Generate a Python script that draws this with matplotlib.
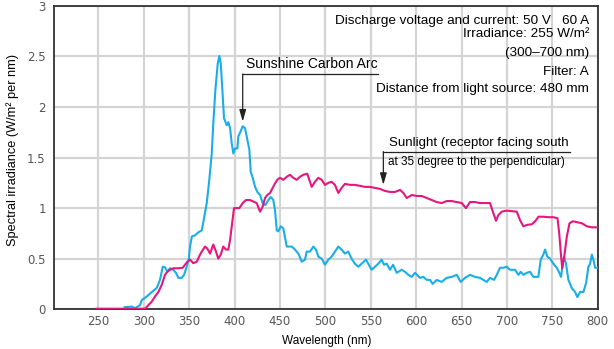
"""
plot.py

Spectral irradiance of a sunshine carbon arc lamp against sunlight.
"""

import matplotlib
matplotlib.use("Agg")
import matplotlib.pyplot as plt

# carbon arc spectrum (blue)
arc_wl = [279, 286.8, 290.4, 295.9, 297.8, 303.3, 308.8, 314.3, 317.9, 320.9,
          323.4, 325.9, 328.9, 332.6, 335.5, 338.1, 341.8, 344.4, 347.3, 349.5,
          351, 353, 356.4, 360.1, 363.9, 366.4, 369.4, 372.2, 374.9, 376.6,
          378.9, 381.5, 383.3, 384.8, 386.6, 388.4, 391.4, 393.2, 395.1, 396.9,
          398.7, 400.5, 403.1, 404.2, 406.8, 409, 411.6, 413.4, 416.3, 417.8,
          420, 422.6, 425.1, 428.1, 431, 433.9, 437.2, 439.9, 442.7, 444.6,
          446.5, 448.2, 450.9, 453.7, 457.5, 463, 466.6, 470.3, 474, 477.6,
          479.5, 483.1, 486.8, 489.7, 492.3, 496, 499.6, 503.3, 506.9, 510.6,
          514.3, 517.9, 521.6, 525.3, 528.9, 532.6, 536.3, 540, 544.8, 547.3,
          551, 554.7, 558.3, 562, 564.6, 567.6, 571.2, 574.6, 578.6, 584.1,
          587.8, 591.4, 595.1, 598.8, 604.3, 608, 611.6, 615.3, 618.2, 622.6,
          628.1, 633.6, 639.2, 644.7, 649.1, 653.8, 659.3, 664.8, 670.4, 677.7,
          681.4, 685.8, 688.8, 692.4, 696.1, 699.8, 703.4, 708.9, 712.6, 715.2,
          718.1, 721.8, 725.4, 729.1, 734.6, 737.2, 740.1, 742, 744.5, 747.5,
          751.2, 754.9, 757.7, 759.6, 761.5, 762.9, 765.1, 767.7, 771.4, 775,
          777.6, 780.5, 784.2, 787.2, 789.7, 791.6, 793.5, 795.2, 797.1, 799.7]
arc_val = [0.02, 0.026, 0.01, 0.04, 0.09, 0.125, 0.17, 0.21, 0.29, 0.42,
           0.415, 0.37, 0.405, 0.39, 0.36, 0.31, 0.31, 0.34, 0.42, 0.49,
           0.62, 0.72, 0.73, 0.76, 0.78, 0.90, 1.05, 1.28, 1.54, 1.84,
           2.17, 2.43, 2.505, 2.43, 2.17, 1.89, 1.82, 1.85, 1.79, 1.64,
           1.54, 1.59, 1.59, 1.71, 1.76, 1.81, 1.79, 1.71, 1.58, 1.36,
           1.30, 1.21, 1.16, 1.13, 1.05, 1.03, 1.08, 1.11, 1.08, 0.98,
           0.78, 0.77, 0.82, 0.80, 0.62, 0.62, 0.59, 0.55, 0.47, 0.49,
           0.57, 0.57, 0.62, 0.59, 0.52, 0.50, 0.44, 0.49, 0.52, 0.57,
           0.62, 0.59, 0.55, 0.57, 0.50, 0.45, 0.42, 0.45, 0.49, 0.45,
           0.39, 0.42, 0.45, 0.49, 0.44, 0.45, 0.39, 0.44, 0.36, 0.39,
           0.37, 0.34, 0.32, 0.36, 0.31, 0.32, 0.29, 0.29, 0.25, 0.29,
           0.27, 0.31, 0.32, 0.34, 0.27, 0.31, 0.34, 0.32, 0.31, 0.27,
           0.31, 0.29, 0.34, 0.41, 0.41, 0.42, 0.39, 0.39, 0.34, 0.37,
           0.34, 0.36, 0.37, 0.32, 0.32, 0.49, 0.54, 0.59, 0.52, 0.50,
           0.45, 0.41, 0.36, 0.32, 0.45, 0.52, 0.45, 0.29, 0.21, 0.17,
           0.12, 0.17, 0.17, 0.26, 0.42, 0.45, 0.54, 0.49, 0.41, 0.41]

# sunlight spectrum (magenta)
sun_wl = [248, 301.4, 305.1, 308.8, 312.4, 316.1, 319.8, 323.4, 326, 328.9,
          332.6, 338.1, 342.9, 345.5, 348, 351, 354.6, 358.4, 362, 363.9,
          367.5, 370, 373, 376.6, 379.6, 382.1, 384.8, 387.6, 390.6, 393.1,
          395.1, 396.9, 399.4, 402.4, 405.3, 409, 412.6, 417, 420.7, 424.4,
          428.1, 431, 433.6, 436.1, 439.1, 442, 444.6, 447.1, 450.1, 453.7,
          457.5, 461.1, 464.7, 468.4, 472.1, 475.7, 480.1, 483.1, 485, 488.6,
          492.3, 496, 499.6, 503.3, 506.9, 510.6, 514.3, 517.9, 521.6, 527.2,
          532.6, 538.1, 543.7, 549.2, 554.7, 560.2, 565.7, 571.2, 576.8, 582.3,
          585.9, 589.6, 595.2, 600.6, 606.2, 611.6, 617.2, 622.7, 628.2, 633.7,
          639.2, 644.7, 650.2, 654.9, 659.3, 664.8, 670.3, 675.8, 681.4, 685,
          688, 690.5, 694.3, 699.8, 705.3, 710.8, 714.5, 718.1, 722.6, 727.4,
          731.1, 734.8, 740.3, 745.8, 751.3, 755.7, 757.6, 759.4, 760.9, 763.1,
          766, 768.9, 772.6, 777.7, 782.5, 788, 793.5, 799.7]
sun_val = [0.005, 0.005, 0.04, 0.075, 0.125, 0.17, 0.24, 0.34, 0.37, 0.39,
           0.405, 0.405, 0.41, 0.44, 0.47, 0.49, 0.455, 0.47, 0.54, 0.57,
           0.62, 0.60, 0.55, 0.64, 0.57, 0.50, 0.54, 0.62, 0.59, 0.59,
           0.685, 0.82, 1.00, 1.00, 1.00, 1.05, 1.08, 1.08, 1.065, 1.05,
           0.965, 1.015, 1.10, 1.13, 1.15, 1.20, 1.245, 1.28, 1.30, 1.28,
           1.31, 1.33, 1.30, 1.28, 1.31, 1.33, 1.34, 1.26, 1.21, 1.26,
           1.30, 1.28, 1.23, 1.25, 1.26, 1.23, 1.15, 1.20, 1.24, 1.23,
           1.23, 1.22, 1.21, 1.21, 1.20, 1.19, 1.17, 1.16, 1.16, 1.18,
           1.15, 1.10, 1.13, 1.12, 1.12, 1.10, 1.08, 1.06, 1.05, 1.07,
           1.07, 1.06, 1.05, 1.00, 1.06, 1.06, 1.05, 1.05, 1.05, 0.95,
           0.875, 0.93, 0.965, 0.975, 0.97, 0.965, 0.88, 0.82, 0.835, 0.84,
           0.87, 0.915, 0.915, 0.91, 0.91, 0.90, 0.75, 0.55, 0.405, 0.52,
           0.72, 0.85, 0.87, 0.86, 0.85, 0.82, 0.81, 0.81]

x_ticks = [250, 300, 350, 400, 450, 500, 550, 600, 650, 700, 750, 800]
y_ticks = [0, 0.5, 1, 1.5, 2, 2.5, 3]
y_tick_labels = ["0", "0.5", "1", "1.5", "2", "2.5", "3"]

info_lines = [
    "Discharge voltage and current: 50 V   60 A",
    "Irradiance: 255 W/m²",
    "(300–700 nm)",
    "Filter: A",
    "Distance from light source: 480 mm",
]

NARROW = ["Liberation Sans Narrow", "Liberation Sans", "DejaVu Sans"]
BLUE = "#1aaee8"
PINK = "#e5177f"


def main():
    fig = plt.figure(figsize=(6.14, 3.49), dpi=100)
    ax = fig.add_axes([0.088, 0.114, 0.8855, 0.869])

    ax.plot(arc_wl, arc_val, color=BLUE, lw=1.5, zorder=3)
    ax.plot(sun_wl, sun_val, color=PINK, lw=1.5, zorder=3)

    ax.set_xlim(201.2, 800)
    ax.set_ylim(0, 3)
    ax.set_xticks(x_ticks)
    ax.set_yticks(y_ticks)
    ax.set_yticklabels(y_tick_labels)
    ax.tick_params(length=0, labelsize=8.5, labelcolor="#555555")
    ax.tick_params(axis="x", pad=4)
    ax.tick_params(axis="y", pad=6)
    ax.grid(color="#d4d4d4", lw=1.6, zorder=0)
    ax.set_axisbelow(True)
    for sp in ax.spines.values():
        sp.set_color("#333333")
        sp.set_linewidth(1.3)

    ax.set_xlabel("Wavelength (nm)", family=NARROW, fontsize=8.5)
    ax.xaxis.set_label_coords(0.502, -0.085)
    ax.set_ylabel("Spectral irradiance (W/m² per nm)", family=NARROW,
                  fontsize=9.2)
    ax.yaxis.set_label_coords(-0.064, 0.525)

    # condition block, top right
    ys = [0.9515, 0.9067, 0.844, 0.7834, 0.7254]
    for txt, yy in zip(info_lines, ys):
        ax.text(0.984, yy, txt, transform=ax.transAxes, ha="right",
                va="center", family=NARROW, fontsize=9.7, zorder=4)

    # carbon arc label with elbow arrow
    ax.text(413, 2.43, "Sunshine Carbon Arc", family=NARROW, fontsize=10,
            ha="left", va="center", zorder=4)
    ax.plot([409, 558], [2.327, 2.327], color="#222222", lw=0.9, zorder=4)
    ax.annotate("", xy=(409, 1.856), xytext=(409, 2.327),
                arrowprops=dict(arrowstyle="-|>,head_length=0.7,head_width=0.2",
                                color="#222222", lw=0.9, shrinkA=0, shrinkB=0),
                zorder=4)

    # sunlight label with elbow arrow
    ax.text(570, 1.64, "Sunlight (receptor facing south", family=NARROW,
            fontsize=9.5, ha="left", va="center", zorder=4)
    ax.plot([563.9, 770], [1.559, 1.559], color="#222222", lw=0.9, zorder=4)
    ax.text(569, 1.46, "at 35 degree to the perpendicular)", family=NARROW,
            fontsize=8.5, ha="left", va="center", zorder=4)
    ax.annotate("", xy=(563.9, 1.23), xytext=(563.9, 1.559),
                arrowprops=dict(arrowstyle="-|>,head_length=0.7,head_width=0.2",
                                color="#222222", lw=0.9, shrinkA=0, shrinkB=0),
                zorder=4)

    fig.savefig("out.png", dpi=100)


if __name__ == "__main__":
    main()
